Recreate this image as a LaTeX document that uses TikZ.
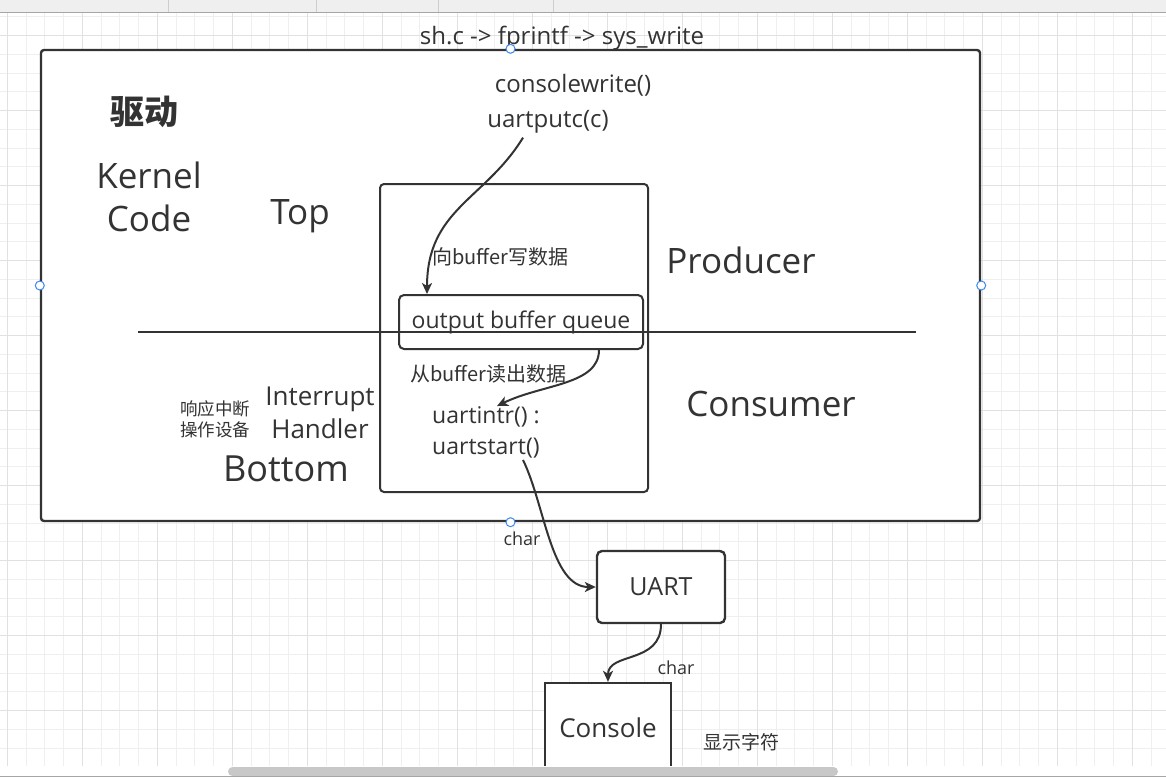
\documentclass[tikz,border=0pt]{standalone}
\usepackage{fontspec}
\setmainfont{Open Sans}
\newfontfamily\cjk{Noto Sans CJK SC}
\usetikzlibrary{arrows.meta}
\definecolor{ink}{HTML}{333333}
\definecolor{gridminor}{HTML}{EFEFEF}
\definecolor{gridmajor}{HTML}{E1E1E1}
\definecolor{handleblue}{HTML}{3C87F0}
\definecolor{bargray}{HTML}{C8C8C8}
\definecolor{tabgray}{HTML}{EFEFEF}
\newcommand{\px}[2]{\fontsize{#1}{#2}\selectfont}
\tikzset{
  txt/.style={text=ink,inner sep=0pt},
  frame/.style={draw=ink,line width=2.4pt,rounded corners=3pt,fill=white},
  box/.style={draw=ink,line width=2pt,rounded corners=4pt,fill=white},
  flow/.style={draw=ink,line width=2pt,-{Stealth[length=11pt,width=10pt,inset=3pt]}},
  handle/.style={circle,draw=handleblue,fill=white,line width=1pt,minimum size=9pt,inner sep=0pt},
}
\begin{document}
\begin{tikzpicture}[x=1pt,y=-1pt]
		\useasboundingbox (0,0) rectangle (1166,777);
		\fill[white] (0,0) rectangle (1166,777);
		% grid
		\foreach \i in {0,...,61} \draw[gridminor,line width=1pt] ({7.3+18.75*\i},13) -- ++(0,753);
		\foreach \j in {0,...,39} \draw[gridminor,line width=1pt] (0,{16.95+18.75*\j}) -- ++(1166,0);
		\foreach \i in {0,...,15} \draw[gridmajor,line width=1pt] ({7.3+75*\i},13) -- ++(0,753);
		\foreach \j in {0,...,9} \draw[gridmajor,line width=1pt] (0,{35.7+75*\j}) -- ++(1166,0);
		% tab strip
		\fill[tabgray] (0,0) rectangle (1166,12);
		\foreach \x in {168,316,438,553} \draw[gridmajor!80!gray,line width=0.8pt] (\x,0) -- (\x,12);
		\draw[black!35,line width=1pt] (0,12.5) -- (1166,12.5);
		% boxes
		\node[frame,minimum width=939,minimum height=471] (outer) at (510.5,285.5) {};
		\node[box,minimum width=268,minimum height=308] (inner) at (514,338) {};
		\coordinate (divL) at (138,332);
		\coordinate (divR) at (916,332);
		\draw[ink,line width=2.2pt] (divL) -- (divR);
		\node[box,fill=none,rounded corners=5pt,minimum width=244,minimum height=54,text=ink,font=\px{23}{27}] (buf) at (521,322) {output buffer queue};
		\node[box,line width=2.4pt,rounded corners=5pt,minimum width=128,minimum height=72,text=ink,font=\px{25}{30}] (uart) at (661,587) {UART};
		\node[box,line width=2.4pt,rounded corners=0pt,minimum width=126,minimum height=90,text=ink,font=\px{26}{31}] (console) at (608,728) {Console};
		% texts
		\node[txt,font=\px{24}{28}] (title) at (562,38) {sh.c -> fprintf -> sys\_write};
		\node[txt,font=\px{24}{28}] (cw) at (573,85) {consolewrite()};
		\node[txt,font=\px{24}{28}] (putc) at (548,122) {uartputc(c)};
		\node[txt,font=\cjk\bfseries\px{34}{40}] (drv) at (144,112) {驱动};
		\node[txt,font=\px{35}{43},align=center] (kernel) at (149,197) {Kernel\\Code};
		\node[txt,font=\px{35}{43}] (top) at (300,216) {Top};
		\node[txt,font=\cjk\px{20}{24}] (write) at (500,257) {向buffer写数据};
		\node[txt,font=\px{35}{43}] (prod) at (741,260) {Producer};
		\node[txt,font=\cjk\px{20}{24}] (read) at (488,374) {从buffer读出数据};
		\node[txt,font=\px{35}{43}] (cons) at (771,404) {Consumer};
		\node[txt,font=\cjk\px{17.5}{21},align=center] (resp) at (215,419) {响应中断\\操作设备};
		\node[txt,font=\px{26}{33},align=center] (irq) at (320,413) {Interrupt\\Handler};
		\node[txt,font=\px{36}{42}] (bottom) at (286,469) {Bottom};
		\node[txt,font=\px{23}{31},align=left,anchor=west] (intr) at (432,432) {uartintr() :\\uartstart()};
		\node[txt,font=\px{18}{22}] (char1) at (522,539) {char};
		\node[txt,font=\px{18}{22}] (char2) at (676,668) {char};
		\node[txt,font=\cjk\px{19}{23}] (show) at (741,742) {显示字符};
		% arrows
		\draw[flow] ([xshift=-25pt,yshift=-4pt]putc.south) .. controls +(-38,62) and +(0,-85) .. ([xshift=29pt]buf.north west);
		\draw[flow] ([xshift=-45pt]buf.south east) .. controls +(0,35) and +(45,-22) .. ([xshift=65pt,yshift=0pt]intr.north west);
		\draw[flow] ([xshift=91pt,yshift=-2pt]intr.south west) .. controls +(22,45) and +(-45,0) .. (uart.west);
		\draw[flow] (uart.south) .. controls +(0,40) and +(0,-30) .. (console.north);
		% handles
		\foreach \a in {north,south,west,east} \node[handle] at (outer.\a) {};
		% scroll bar
		\fill[white] (0,766) rectangle (1166,777);
		\fill[bargray,rounded corners=4.5pt] (228,767) rectangle (838,776);
		\draw[black!35,line width=1pt] (0,776.5) -- (1166,776.5);
	\end{tikzpicture}
\end{document}
